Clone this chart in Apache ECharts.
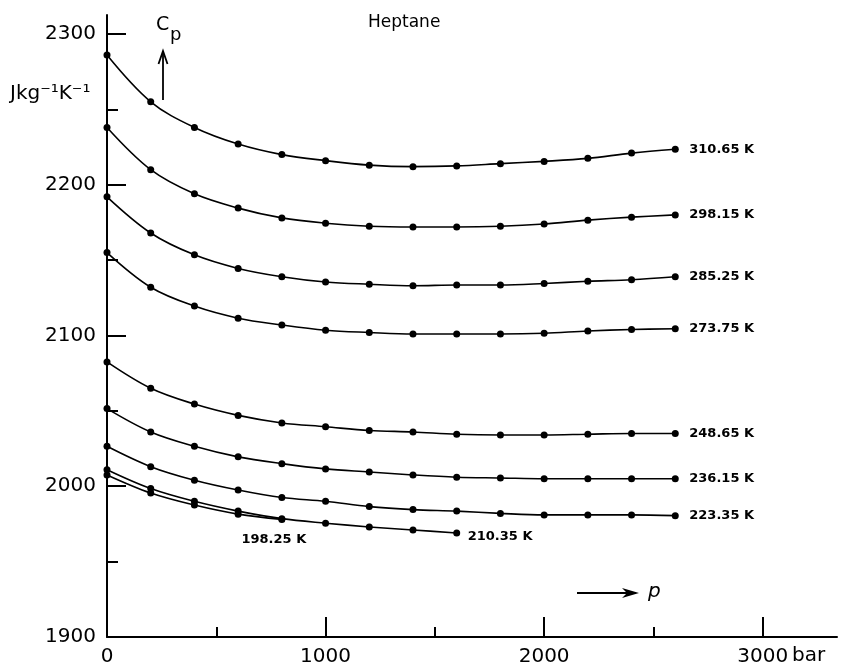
<!DOCTYPE html>
<html>
<head>
<meta charset="utf-8">
<title>Heptane – specific heat capacity vs pressure</title>
<script src="https://cdn.jsdelivr.net/npm/echarts@6/dist/echarts.min.js"></script>
<style>
  html, body { margin: 0; padding: 0; background: #fff; }
  #chart { width: 841px; height: 666px; }
</style>
</head>
<body>
<div id="chart"></div>
<script>
// Pressure in bar (isotherms are measured every 200 bar)
const pressure = [0, 200, 400, 600, 800, 1000, 1200, 1400, 1600, 1800, 2000, 2200, 2400, 2600];

// Specific heat capacity cp in J kg^-1 K^-1 along each isotherm
const cp310 = [2286, 2255, 2238, 2227, 2220, 2216, 2213, 2212, 2212.5, 2214, 2215.5, 2217.5, 2221, 2223.5];
const cp298 = [2238, 2210, 2194, 2184.5, 2178, 2174.5, 2172.5, 2172, 2172, 2172.5, 2174, 2176.5, 2178.5, 2180];
const cp285 = [2192, 2168, 2153.5, 2144.5, 2139, 2135.5, 2134, 2133, 2133.5, 2133.5, 2134.5, 2136, 2137, 2139];
const cp273 = [2155, 2132, 2119.5, 2111.5, 2107, 2103.5, 2102, 2101, 2101, 2101, 2101.5, 2103, 2104, 2104.5];
const cp248 = [2082.5, 2065, 2054.5, 2047, 2042, 2039.5, 2037, 2036, 2034.5, 2034, 2034, 2034.5, 2035, 2035];
const cp236 = [2051.5, 2036, 2026.5, 2019.5, 2015, 2011.5, 2009.5, 2007.5, 2006, 2005.5, 2005, 2005, 2005, 2005];
const cp223 = [2026.5, 2013, 2004, 1997.5, 1992.5, 1990, 1986.5, 1984.5, 1983.5, 1982, 1981, 1981, 1981, 1980.5];
const cp210 = [2011, 1998.5, 1990, 1983.5, 1978.5, 1975.5, 1973, 1971, 1969];
const cp198 = [2007.5, 1995.5, 1987.5, 1981.5, 1978];

// Isotherm names
const temps = ['310.65 K', '298.15 K', '285.25 K', '273.75 K', '248.65 K', '236.15 K', '223.35 K', '210.35 K', '198.25 K'];

// Axis ticks
const xMajor = [1000, 2000, 3000];
const xMinor = [500, 1500, 2500];
const xLabels = [0, 1000, 2000, 3000];
const yMajor = [1900, 2000, 2100, 2200, 2300];
const yMinor = [1950, 2050, 2150, 2250];

const FONT = 'DejaVu Sans';
const INK = '#000';

const zip = (ys) => ys.map((v, i) => [pressure[i], v]);

const tempLabelStyle = { color: INK, fontFamily: FONT, fontSize: 13, fontWeight: 'bold' };

function curve(name, ys, labelMode) {
  const s = {
    name: name,
    type: 'line',
    data: zip(ys),
    smooth: 0.35,
    symbol: 'circle',
    symbolSize: 7,
    showSymbol: true,
    itemStyle: { color: INK },
    lineStyle: { color: INK, width: 1.6 },
    silent: true,
    z: 5
  };
  if (labelMode === 'end') {
    s.endLabel = Object.assign({ show: true, formatter: '{a}', distance: 14 }, tempLabelStyle);
  } else if (labelMode === 'endLow') {
    s.endLabel = Object.assign({ show: true, formatter: '{a}', distance: 11, offset: [0, 4] }, tempLabelStyle);
  } else if (labelMode === 'below') {
    const last = s.data.length - 1;
    s.data[last] = {
      value: s.data[last],
      label: Object.assign({ show: true, position: 'bottom', distance: 10, offset: [-8, 0], formatter: name }, tempLabelStyle)
    };
  }
  return s;
}

const chart = echarts.init(document.getElementById('chart'), null, { renderer: 'canvas' });

const plain = (v) => String(v);

const axisBase = {
  type: 'value',
  splitLine: { show: false },
  minorTick: { show: false }
};

chart.setOption({
  animation: false,
  backgroundColor: '#fff',
  grid: {
    left: 107, right: 4, top: 15, bottom: 29,
    containLabel: false,
    outerBoundsMode: 'none'
  },
  xAxis: [
    Object.assign({}, axisBase, {
      min: 0, max: 3340, position: 'bottom',
      axisLine: { show: true, onZero: false, lineStyle: { color: INK, width: 2 } },
      axisTick: { show: true, inside: true, length: 20, customValues: xMajor, lineStyle: { color: INK, width: 2 } },
      axisLabel: {
        show: true, customValues: xLabels, margin: 10, formatter: plain,
        color: INK, fontFamily: FONT, fontSize: 20
      }
    }),
    Object.assign({}, axisBase, {
      min: 0, max: 3340, position: 'bottom',
      axisLine: { show: false, onZero: false },
      axisTick: { show: true, inside: true, length: 10, customValues: xMinor, lineStyle: { color: INK, width: 2 } },
      axisLabel: { show: false }
    })
  ],
  yAxis: [
    Object.assign({}, axisBase, {
      min: 1900, max: 2312.6, position: 'left',
      axisLine: { show: true, onZero: false, lineStyle: { color: INK, width: 2 } },
      axisTick: { show: true, inside: true, length: 19, customValues: yMajor, lineStyle: { color: INK, width: 2 } },
      axisLabel: {
        show: true, customValues: yMajor, margin: 11, formatter: plain,
        color: INK, fontFamily: FONT, fontSize: 20
      }
    }),
    Object.assign({}, axisBase, {
      min: 1900, max: 2312.6, position: 'left',
      axisLine: { show: false, onZero: false },
      axisTick: { show: true, inside: true, length: 11, customValues: yMinor, lineStyle: { color: INK, width: 2 } },
      axisLabel: { show: false }
    })
  ],
  series: [
    curve(temps[0], cp310, 'end'),
    curve(temps[1], cp298, 'end'),
    curve(temps[2], cp285, 'end'),
    curve(temps[3], cp273, 'end'),
    curve(temps[4], cp248, 'end'),
    curve(temps[5], cp236, 'end'),
    curve(temps[6], cp223, 'end'),
    curve(temps[7], cp210, 'endLow'),
    curve(temps[8], cp198, 'below')
  ],
  graphic: [
    // title
    { type: 'text', left: 368, top: 14, style: { text: 'Heptane', fill: INK, font: '17px "DejaVu Sans"' } },
    // cp symbol with upward arrow
    { type: 'text', left: 156, top: 16, style: { text: 'C', fill: INK, font: '19px "DejaVu Sans"' } },
    { type: 'text', left: 170, top: 26, style: { text: 'p', fill: INK, font: '18px "DejaVu Sans"' } },
    { type: 'line', shape: { x1: 163, y1: 100, x2: 163, y2: 54 }, style: { stroke: INK, lineWidth: 1.8 } },
    { type: 'polyline', shape: { points: [[158.5, 64], [163, 51], [167.5, 64]] }, style: { stroke: INK, lineWidth: 1.8, fill: null } },
    // unit of the ordinate
    { type: 'text', left: 10, top: 84, style: { text: 'Jkg\u207B\u00B9K\u207B\u00B9', fill: INK, font: '20px "DejaVu Sans"' } },
    // pressure arrow
    { type: 'line', shape: { x1: 577, y1: 593, x2: 636, y2: 593 }, style: { stroke: INK, lineWidth: 1.8 } },
    { type: 'polygon', shape: { points: [[622, 588], [639, 593], [622, 598], [627, 593]] }, style: { fill: INK } },
    { type: 'text', left: 648, top: 582, style: { text: 'p', fill: INK, font: 'italic 20px "DejaVu Sans"' } },
    // unit of the abscissa
    { type: 'text', left: 792, top: 646, style: { text: 'bar', fill: INK, font: '20px "DejaVu Sans"' } }
  ]
});
</script>
</body>
</html>
